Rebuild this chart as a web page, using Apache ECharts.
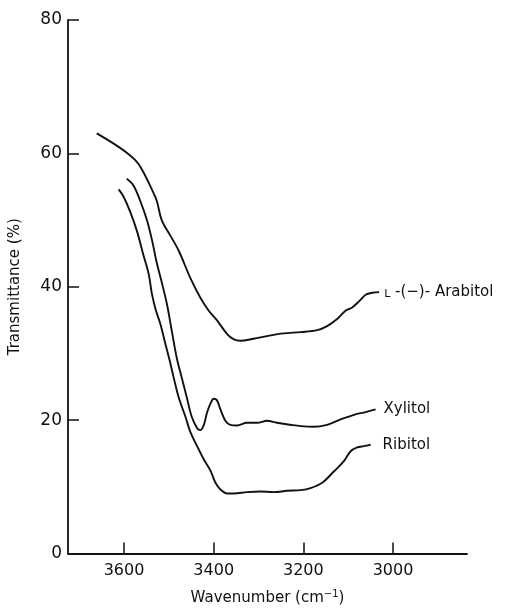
<!DOCTYPE html>
<html>
<head>
<meta charset="utf-8">
<script src="https://cdn.jsdelivr.net/npm/echarts@6/dist/echarts.min.js"></script>
<style>
  html, body { margin: 0; padding: 0; background: #fff; }
  #chart { width: 507px; height: 611px; }
</style>
</head>
<body>
<div id="chart"></div>
<script>
// IR spectra of three pentitols in the O–H stretching region.
// Each series: [wavenumber (cm^-1), transmittance (%)]
const arabitol = [
  [3661, 63.0], [3624, 61.5], [3594, 60.1], [3571, 58.7], [3557, 57.2],
  [3538, 54.6], [3527, 52.9], [3516, 50.0], [3497, 47.7], [3478, 45.4],
  [3452, 41.3], [3430, 38.4], [3411, 36.4], [3393, 35.0], [3370, 32.9],
  [3355, 32.1], [3341, 31.9], [3311, 32.2], [3281, 32.6], [3244, 33.0],
  [3206, 33.2], [3169, 33.5], [3147, 34.1], [3124, 35.2], [3106, 36.4],
  [3091, 36.9], [3076, 37.8], [3061, 38.8], [3046, 39.1], [3031, 39.2]
];
const xylitol = [
  [3594, 56.2], [3579, 55.2], [3564, 52.9], [3549, 50.0], [3538, 47.1],
  [3527, 43.6], [3516, 40.7], [3504, 37.3], [3493, 33.2], [3482, 29.2],
  [3471, 26.3], [3460, 23.4], [3449, 20.5], [3437, 18.8], [3430, 18.5],
  [3422, 19.3], [3415, 21.1], [3407, 22.5], [3400, 23.2], [3393, 23.0],
  [3385, 21.6], [3374, 19.9], [3363, 19.3], [3348, 19.2], [3326, 19.6],
  [3303, 19.6], [3281, 19.9], [3259, 19.6], [3229, 19.3], [3206, 19.1],
  [3177, 19.0], [3147, 19.3], [3117, 20.1], [3087, 20.8], [3061, 21.2],
  [3039, 21.6]
];
const ribitol = [
  [3612, 54.6], [3601, 53.5], [3586, 51.2], [3571, 48.3], [3557, 44.8],
  [3545, 41.9], [3538, 39.0], [3530, 36.7], [3519, 34.4], [3508, 31.5],
  [3497, 28.6], [3489, 26.3], [3478, 23.4], [3463, 20.5], [3452, 18.2],
  [3437, 16.1], [3422, 14.1], [3407, 12.4], [3396, 10.6], [3385, 9.6],
  [3370, 9.0], [3355, 9.0], [3326, 9.2], [3296, 9.3], [3266, 9.2],
  [3236, 9.4], [3206, 9.5], [3184, 9.8], [3158, 10.6], [3132, 12.3],
  [3110, 13.8], [3095, 15.3], [3080, 15.9], [3065, 16.1], [3050, 16.3]
];
const xTicks = [3600, 3400, 3200, 3000];
const yTicks = [0, 20, 40, 60, 80];

const FONT = 'DejaVu Sans';
const INK = '#111';

function curve(name, data) {
  return {
    name: name,
    type: 'line',
    data: data,
    smooth: 0.35,
    symbol: 'none',
    lineStyle: { color: INK, width: 1.9 },
    emphasis: { disabled: true },
    silent: true
  };
}

// Curve name written just to the right of the curve's last point
function tag(text, data, gap) {
  return {
    type: 'scatter',
    data: [data[data.length - 1]],
    symbolSize: 0,
    itemStyle: { color: INK, opacity: 1 },
    emphasis: { disabled: true },
    silent: true,
    label: {
      show: true,
      position: 'right',
      distance: gap,
      formatter: text,
      color: INK,
      opacity: 1,
      fontFamily: FONT,
      fontSize: 15,
      rich: {
        sc: { fontFamily: FONT, fontSize: 11, color: INK, verticalAlign: 'bottom' }
      }
    }
  };
}

const chart = echarts.init(document.getElementById('chart'), null, { renderer: 'canvas' });
chart.setOption({
  animation: false,
  backgroundColor: '#fff',
  grid: { left: 68, right: 40, top: 20, bottom: 53 },
  xAxis: {
    type: 'value',
    inverse: true,
    min: 2835,
    max: 3725,
    name: 'Wavenumber (cm{sup|−1})',
    nameLocation: 'middle',
    nameGap: 36,
    nameTextStyle: {
      color: INK, fontFamily: FONT, fontSize: 15,
      rich: { sup: { fontFamily: FONT, fontSize: 10, color: INK, verticalAlign: 'top', padding: [0, 0, 8, 0] } }
    },
    axisLine: { show: true, lineStyle: { color: INK, width: 1.8 } },
    axisTick: { show: true, inside: true, length: 11, customValues: xTicks, lineStyle: { color: INK, width: 1.5 } },
    axisLabel: {
      customValues: xTicks, margin: 9, color: INK, fontFamily: FONT, fontSize: 16,
      formatter: v => String(v)
    },
    splitLine: { show: false }
  },
  yAxis: {
    type: 'value',
    min: 0,
    max: 80,
    interval: 20,
    name: 'Transmittance (%)',
    nameLocation: 'middle',
    nameGap: 45,
    nameTextStyle: { color: INK, fontFamily: FONT, fontSize: 15 },
    axisLine: { show: true, lineStyle: { color: INK, width: 1.8 } },
    axisTick: { show: true, inside: true, length: 11, customValues: [20, 40, 60, 80], lineStyle: { color: INK, width: 1.5 } },
    axisLabel: { customValues: yTicks, margin: 6, color: INK, fontFamily: FONT, fontSize: 17 },
    splitLine: { show: false }
  },
  series: [
    curve('L-(−)-Arabitol', arabitol),
    curve('Xylitol', xylitol),
    curve('Ribitol', ribitol),
    tag('{sc|L} -(−)- Arabitol', arabitol, 5),
    tag('Xylitol', xylitol, 8),
    tag('Ribitol', ribitol, 12)
  ]
});
</script>
</body>
</html>
